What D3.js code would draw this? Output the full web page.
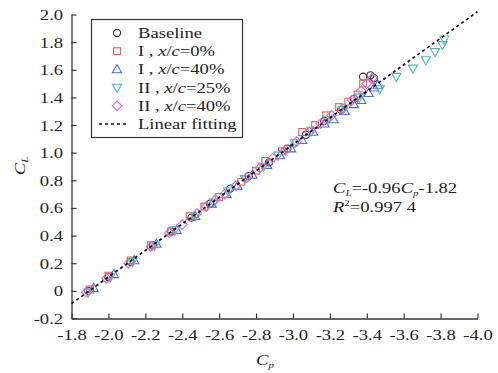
<!DOCTYPE html>
<html>
<head>
<meta charset="utf-8">
<script src="https://cdn.jsdelivr.net/npm/d3@7"></script>
<style>
  body { margin: 0; background: #fff; }
  text { font-family: "Liberation Serif", "Times New Roman", serif; fill: #222; }
</style>
</head>
<body>
<div id="chart"></div>
<script>
// values
const baselineCp = [-1.89, -2.00, -2.12, -2.24, -2.34, -2.45, -2.55, -2.66, -2.76, -2.87, -2.97, -3.07, -3.17, -3.26, -3.33, -3.38, -3.42, -3.44];
const baselineCL = [0.00, 0.10, 0.21, 0.33, 0.43, 0.53, 0.63, 0.74, 0.83, 0.93, 1.03, 1.13, 1.23, 1.31, 1.39, 1.55, 1.56, 1.54];

const i0Cp = [-1.90, -2.00, -2.12, -2.23, -2.34, -2.44, -2.52, -2.60, -2.72, -2.80, -2.85, -2.94, -3.05, -3.12, -3.18, -3.25, -3.30, -3.35, -3.38];
const i0CL = [0.01, 0.11, 0.22, 0.33, 0.43, 0.54, 0.61, 0.68, 0.79, 0.87, 0.94, 1.01, 1.15, 1.20, 1.27, 1.33, 1.37, 1.42, 1.50];

const i40Cp = [-1.92, -2.03, -2.14, -2.26, -2.37, -2.47, -2.56, -2.64, -2.70, -2.78, -2.86, -2.93, -2.99, -3.05, -3.11, -3.17, -3.22, -3.28, -3.33, -3.37, -3.41, -3.44, -3.46];
const i40CL = [0.02, 0.12, 0.22, 0.34, 0.44, 0.54, 0.63, 0.70, 0.76, 0.84, 0.91, 0.98, 1.03, 1.09, 1.15, 1.21, 1.24, 1.30, 1.35, 1.38, 1.43, 1.47, 1.49];

const ii25Cp = [-1.89, -2.01, -2.13, -2.25, -2.36, -2.47, -2.57, -2.65, -2.74, -2.84, -2.92, -3.01, -3.10, -3.19, -3.27, -3.36, -3.47, -3.56, -3.65, -3.72, -3.77, -3.81, -3.82];
const ii25CL = [-0.01, 0.10, 0.21, 0.33, 0.44, 0.54, 0.64, 0.72, 0.81, 0.90, 0.98, 1.07, 1.16, 1.24, 1.31, 1.40, 1.46, 1.55, 1.61, 1.67, 1.73, 1.78, 1.82];

const ii40Cp = [-1.88, -1.99, -2.11, -2.23, -2.33, -2.40, -2.48, -2.53, -2.58, -2.63, -2.69, -2.75, -2.82, -2.89, -2.96, -3.02, -3.09, -3.15, -3.21, -3.27, -3.32, -3.37, -3.40, -3.43];
const ii40CL = [-0.01, 0.09, 0.20, 0.32, 0.42, 0.48, 0.56, 0.61, 0.66, 0.70, 0.76, 0.82, 0.89, 0.96, 1.02, 1.08, 1.15, 1.21, 1.27, 1.32, 1.38, 1.45, 1.50, 1.54];

const xTicks = [-1.8, -2.0, -2.2, -2.4, -2.6, -2.8, -3.0, -3.2, -3.4, -3.6, -3.8, -4.0];
const yTicks = [-0.2, 0, 0.2, 0.4, 0.6, 0.8, 1.0, 1.2, 1.4, 1.6, 1.8, 2.0];

// fit C_L = -0.96 C_p - 1.82
const fitSlope = -0.96;
const fitIntercept = -1.82;

const W = 498, H = 373;
const sx = 1.2; // horizontal stretch of the lettering

const svg = d3.select("#chart").append("svg")
  .attr("width", W).attr("height", H);

const x = d3.scaleLinear().domain([-1.8, -4.0]).range([71.5, 477.5]);
const y = d3.scaleLinear().domain([-0.2, 2.0]).range([318.5, 14.5]);

// axes (inward ticks)
const xAxis = svg.append("g")
  .attr("transform", `translate(0,${y(-0.2)})`)
  .call(d3.axisBottom(x).tickValues(xTicks).tickSize(-5).tickPadding(11)
    .tickFormat(d3.format(".1f")).tickSizeOuter(0));
const yAxis = svg.append("g")
  .attr("transform", `translate(${x(-1.8)},0)`)
  .call(d3.axisLeft(y).tickValues(yTicks).tickSize(-5).tickPadding(7)
    .tickFormat(d => d === 0 ? "0" : d3.format(".1f")(d)).tickSizeOuter(0));

[xAxis, yAxis].forEach(ax => {
  ax.select(".domain").attr("stroke", "#333").attr("stroke-width", 1.3);
  ax.selectAll(".tick line").attr("stroke", "#333").attr("stroke-width", 1.2);
  ax.selectAll(".tick text")
    .style("font-family", '"Liberation Serif", "Times New Roman", serif')
    .style("font-size", "15.5px").attr("fill", "#222")
    .attr("transform", `scale(${sx},1)`);
});
xAxis.selectAll(".tick text").text(d => d3.format(".1f")(d).replace("−", "-"));
yAxis.selectAll(".tick text").text(d => d === 0 ? "0" : d3.format(".1f")(d).replace("−", "-"));

// marker shapes
const shapes = {
  circle: (g) => g.append("circle").attr("r", 3.6),
  square: (g) => g.append("rect").attr("x", -3.4).attr("y", -3.4).attr("width", 6.8).attr("height", 6.8),
  up: (g) => g.append("path").attr("d", "M0,-4.8L4.6,3.3L-4.6,3.3Z"),
  down: (g) => g.append("path").attr("d", "M0,4.8L4.6,-3.3L-4.6,-3.3Z"),
  diamond: (g) => g.append("path").attr("d", "M0,-4.8L4.8,0L0,4.8L-4.8,0Z")
};

const series = [
  { cp: baselineCp, cl: baselineCL, shape: "circle", color: "#333333" },
  { cp: i0Cp, cl: i0CL, shape: "square", color: "#ee5a55" },
  { cp: i40Cp, cl: i40CL, shape: "up", color: "#4d6fcf" },
  { cp: ii25Cp, cl: ii25CL, shape: "down", color: "#4fb8b2" },
  { cp: ii40Cp, cl: ii40CL, shape: "diamond", color: "#d36fcb" }
];

series.forEach(s => {
  s.cp.forEach((cp, i) => {
    const g = svg.append("g").attr("transform", `translate(${x(cp)},${y(s.cl[i])})`);
    shapes[s.shape](g).attr("fill", "none").attr("stroke", s.color).attr("stroke-width", 1.1);
  });
});

// linear fitting line
const fitX = [-1.8, -4.0];
svg.append("path")
  .datum(fitX)
  .attr("d", d3.line().x(d => x(d)).y(d => y(fitSlope * d + fitIntercept)))
  .attr("fill", "none").attr("stroke", "#111").attr("stroke-width", 1.7)
  .attr("stroke-dasharray", "3,3");

// helper for stretched text
function label(g, px, py, anchor) {
  return g.append("text")
    .attr("transform", `translate(${px},${py}) scale(${sx},1)`)
    .attr("text-anchor", anchor || "start")
    .style("font-size", "15.5px");
}

// legend
const leg = svg.append("g");
leg.append("rect").attr("x", 91.5).attr("y", 19.5).attr("width", 151).attr("height", 118)
  .attr("fill", "#fff").attr("stroke", "#333").attr("stroke-width", 1.2);

const legItems = [
  { shape: "circle", color: "#333333", parts: [["Baseline", false]] },
  { shape: "square", color: "#ee5a55", parts: [["I , ", false], ["x", true], ["/", false], ["c", true], ["=0%", false]] },
  { shape: "up", color: "#4d6fcf", parts: [["I , ", false], ["x", true], ["/", false], ["c", true], ["=40%", false]] },
  { shape: "down", color: "#4fb8b2", parts: [["II , ", false], ["x", true], ["/", false], ["c", true], ["=25%", false]] },
  { shape: "diamond", color: "#d36fcb", parts: [["II , ", false], ["x", true], ["/", false], ["c", true], ["=40%", false]] },
  { shape: "line", color: "#111", parts: [["Linear fitting", false]] }
];

legItems.forEach((it, i) => {
  const cy = 33 + i * 18.2;
  if (it.shape === "line") {
    leg.append("line").attr("x1", 99).attr("x2", 129).attr("y1", cy).attr("y2", cy)
      .attr("stroke", it.color).attr("stroke-width", 1.4).attr("stroke-dasharray", "3,3");
  } else {
    const g = leg.append("g").attr("transform", `translate(117,${cy})`);
    shapes[it.shape](g).attr("fill", "none").attr("stroke", it.color).attr("stroke-width", 1.1);
  }
  const t = label(leg, 138, cy + 5);
  it.parts.forEach(p => {
    t.append("tspan").text(p[0]).style("font-style", p[1] ? "italic" : "normal");
  });
});

// equation
const eq1 = label(svg, 333, 193);
eq1.append("tspan").text("C").style("font-style", "italic");
eq1.append("tspan").text("L").style("font-style", "italic").style("font-size", "9px").attr("dy", 3);
eq1.append("tspan").text("=-0.96").attr("dy", -3);
eq1.append("tspan").text("C").style("font-style", "italic");
eq1.append("tspan").text("p").style("font-style", "italic").style("font-size", "9px").attr("dy", 3);
eq1.append("tspan").text("-1.82").attr("dy", -3);

const eq2 = label(svg, 333, 212);
eq2.append("tspan").text("R").style("font-style", "italic");
eq2.append("tspan").text("2").style("font-size", "9px").attr("dy", -6);
eq2.append("tspan").text("=0.997 4").attr("dy", 6);

// axis titles
const xt = label(svg, 265, 365, "middle");
xt.append("tspan").text("C").style("font-style", "italic");
xt.append("tspan").text("p").style("font-style", "italic").style("font-size", "9px").attr("dy", 3);

const yt = svg.append("text")
  .attr("transform", `translate(25,166) rotate(-90) scale(${sx},1)`)
  .attr("text-anchor", "middle").style("font-size", "15.5px");
yt.append("tspan").text("C").style("font-style", "italic");
yt.append("tspan").text("L").style("font-style", "italic").style("font-size", "9px").attr("dy", 3);
</script>
</body>
</html>
